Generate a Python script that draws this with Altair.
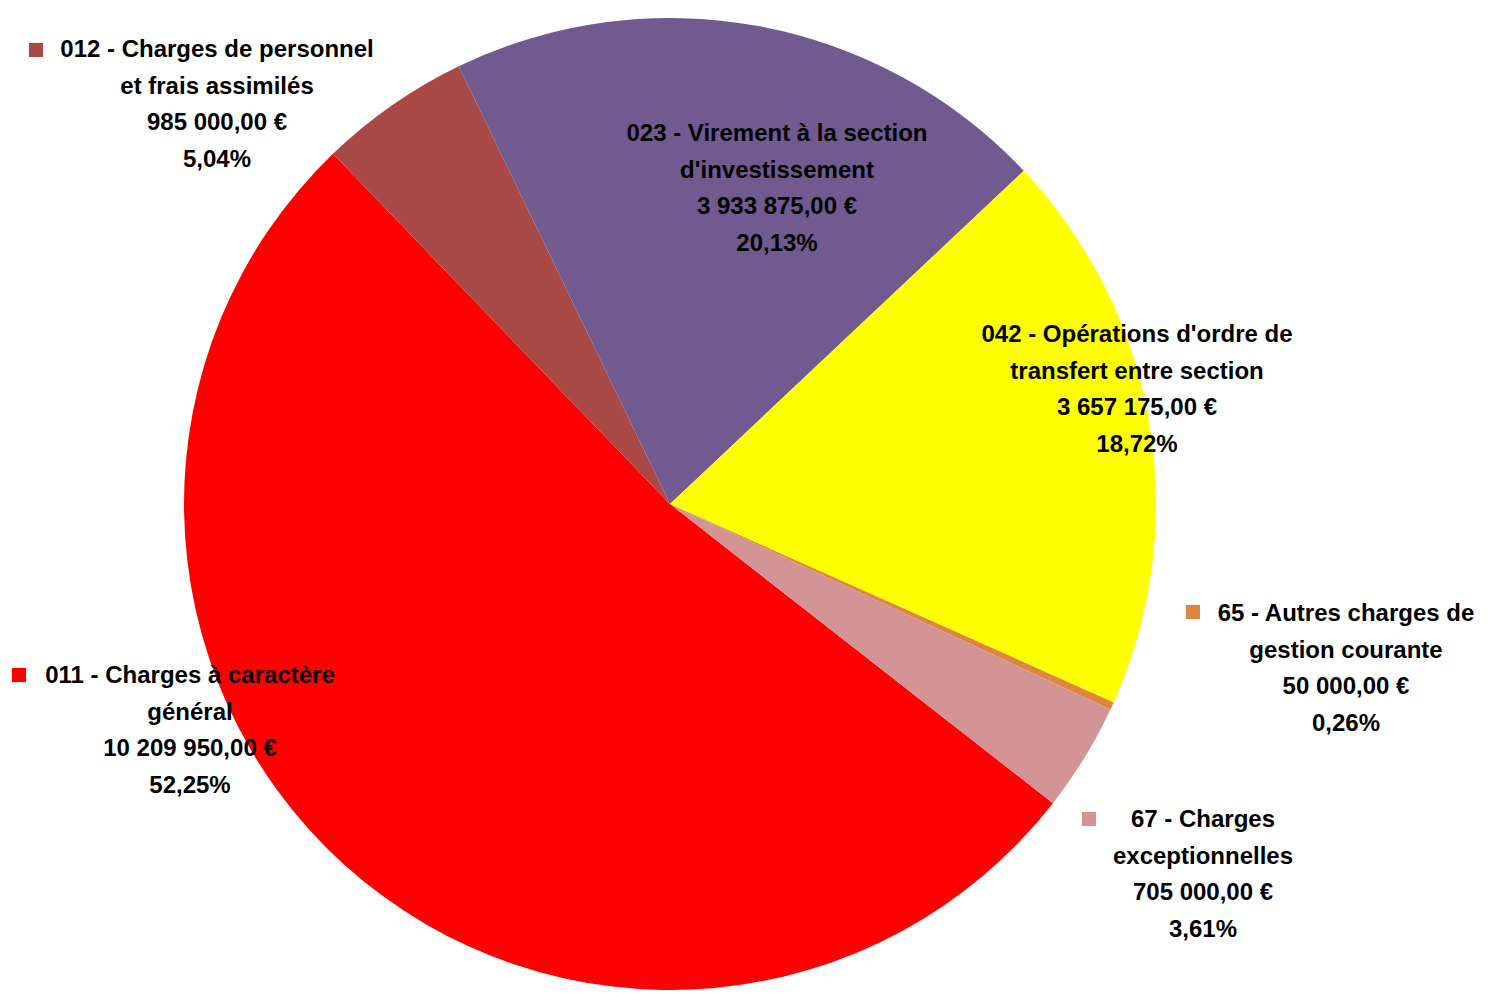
import math
import altair as alt
import pandas as pd

# ---- data ----
codes = ["011", "012", "023", "042", "65", "67"]
names = [
    ["011 - Charges à caractère", "général"],
    ["012 - Charges de personnel", "et frais assimilés"],
    ["023 - Virement à la section", "d'investissement"],
    ["042 - Opérations d'ordre de", "transfert entre section"],
    ["65 - Autres charges de", "gestion courante"],
    ["67 - Charges", "exceptionnelles"],
]
values = [10209950.00, 985000.00, 3933875.00, 3657175.00, 50000.00, 705000.00]
colors = ["#FF0000", "#A84946", "#705A8F", "#FFFF00", "#DE8540", "#D29494"]
has_key = [True, True, False, False, True, True]

# ---- layout (chart pixel coordinates; label y = first line) ----
W, H = 1476, 985
CX, CY, R = 662, 496, 486
START_DEG = 128.0
label_pos = {
    "011": (182, 668),
    "012": (209, 42),
    "023": (769, 126),
    "042": (1129, 327),
    "65": (1338, 606),
    "67": (1195, 812),
}
key_pos = {
    "011": (11, 667),
    "012": (28, 42),
    "65": (1185, 604),
    "67": (1081, 811),
}

FONT = "Liberation Sans, Arial"


def fr_money(v):
    s = f"{v:,.2f}".replace(",", " ").replace(".", ",")
    return s + " €"


total = sum(values)
rows = []
for i, (c, n, v) in enumerate(zip(codes, names, values)):
    pct = v / total * 100
    lines = n + [fr_money(v), f"{pct:.2f}%".replace(".", ",")]
    lx, ly = label_pos[c]
    rows.append({"code": c, "idx": i, "value": v, "lines": lines, "lx": lx, "ly": ly})
df = pd.DataFrame(rows)

keys = pd.DataFrame([
    {"code": c, "kx": key_pos[c][0], "ky": key_pos[c][1]}
    for c, k in zip(codes, has_key) if k
])

a0 = math.radians(START_DEG)
color_scale = alt.Scale(domain=codes, range=colors)

pie = alt.Chart(df).mark_arc(outerRadius=R, stroke=None).encode(
    theta=alt.Theta("value:Q", stack=True, scale=alt.Scale(range=[a0, a0 + 2 * math.pi])),
    order=alt.Order("idx:Q"),
    color=alt.Color("code:N", scale=color_scale, legend=None),
    x=alt.value(CX),
    y=alt.value(CY),
)

labels = alt.Chart(df).mark_text(
    font=FONT, fontSize=24, fontWeight="bold", color="#000000",
    align="center", baseline="middle", lineHeight=36.6,
).encode(
    x=alt.X("lx:Q", scale=None),
    y=alt.Y("ly:Q", scale=None),
    text="lines",
)

key_marks = alt.Chart(keys).mark_square(size=200, opacity=1, filled=True).encode(
    x=alt.X("kx:Q", scale=None),
    y=alt.Y("ky:Q", scale=None),
    color=alt.Color("code:N", scale=color_scale, legend=None),
)

chart = alt.layer(pie, key_marks, labels).properties(
    width=W, height=H, autosize="none", padding=0
).configure_view(stroke=None)

chart.save("out.html", embed_options={"renderer": "svg", "actions": False})
